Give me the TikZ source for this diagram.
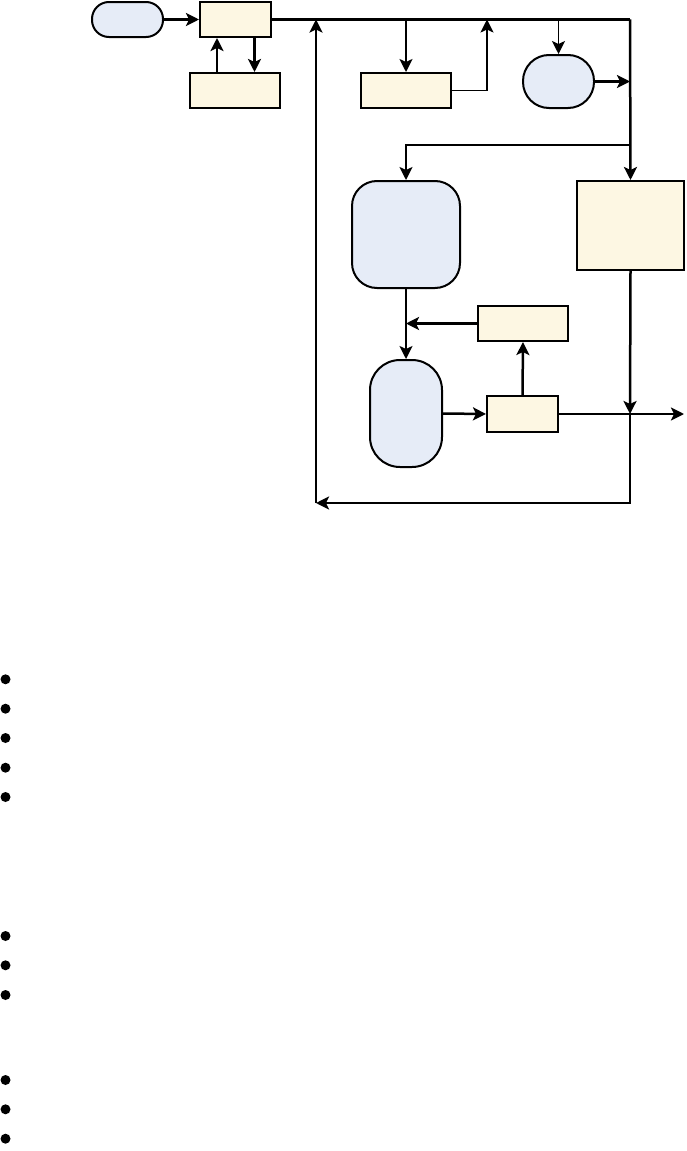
\documentclass[tikz,border=0pt]{standalone}
\usepackage{tikz}
\usetikzlibrary{arrows.meta,positioning}
\definecolor{procfill}{HTML}{FDF7E3}
\definecolor{termfill}{HTML}{E6ECF7}

\begin{document}
\begin{tikzpicture}[
  x=1pt, y=-1pt,
  box/.style={rectangle, draw=black, line width=2pt, fill=procfill, inner sep=0pt},
  term/.style={rectangle, draw=black, line width=2pt, fill=termfill, inner sep=0pt},
  dot/.style={circle, fill=black, inner sep=0pt, minimum size=10pt},
  wire/.style={line width=2.5pt},
  arr/.style={-{Stealth[length=13pt, width=13pt, inset=3pt]}, line width=2.5pt},
  tarr/.style={-{Stealth[length=13pt, width=13pt, inset=3pt]}, line width=1.8pt},
]
  \useasboundingbox (0,0) rectangle (686,1151);

  \node[term, rounded corners=17pt, minimum width=71pt, minimum height=35pt] (start) at (127.5,19.5) {};
  \node[box, minimum width=71pt, minimum height=35pt] (a) at (235.5,19.5) {};
  \node[box, minimum width=90pt, minimum height=35pt] (b) at (235,90.5) {};
  \node[box, minimum width=90pt, minimum height=35pt] (c) at (406,90.5) {};
  \node[term, rounded corners=26pt, minimum width=71pt, minimum height=53pt] (d) at (558.5,81.5) {};
  \node[box, minimum width=107pt, minimum height=89pt] (e) at (630.5,225.5) {};
  \node[term, rounded corners=25pt, minimum width=108pt, minimum height=107pt] (f) at (406,234.5) {};
  \node[box, minimum width=90pt, minimum height=35pt] (h) at (523,323.5) {};
  \node[term, rounded corners=30pt, minimum width=72pt, minimum height=107pt] (g) at (406,413.5) {};
  \node[box, minimum width=71pt, minimum height=36pt] (i) at (522.5,414) {};

  \coordinate (jtr) at (630,19.5);
  \coordinate (jc) at (487,19.5);
  \coordinate (jm) at (630,145);
  \coordinate (jo) at (630,414);
  \coordinate (out) at (684,414);
  \coordinate (jbr) at (630,503);
  \coordinate (jbl) at (316,503);

  % top row
  \draw[arr] (start) -- (a);
  \draw[arr] ([xshift=-18pt]b.north) -- ([xshift=-18pt]b.north |- a.south);
  \draw[arr] ([xshift=19pt]a.south) -- ([xshift=19pt]a.south |- b.north);
  \draw[wire] (a.east) -- (jtr);
  \draw[tarr] (c.north |- jtr) -- (c.north);
  \draw[tarr] (c.east) -| (jc);
  \draw[tarr] (d.north |- jtr) -- (d.north);
  \draw[arr] (d.east) -- (d.east -| jtr);

  % right branch
  \draw[arr] (jtr) -- (e.north);
  \draw[tarr] (jm) -| (f.north);
  \draw[tarr] (f.south) -- (g.north);
  \draw[arr] (h.west) -- (h.west -| f.south);
  \draw[arr] (g.east) -- (i.west);
  \draw[arr] (i.north) -- (h.south);
  \draw[arr] (e.south) -- (jo);
  \draw[arr] (i.east) -- (out);

  % return loop
  \draw[arr] (jo) -- (jbr) -- (jbl);
  \draw[arr] (jbl) -- (jbl |- jtr);

  % bullets
  \node[dot] (p1) at (5.5,679.3) {};
  \node[dot] (p2) at (5.5,708.7) {};
  \node[dot] (p3) at (5.5,738) {};
  \node[dot] (p4) at (5.5,767.7) {};
  \node[dot] (p5) at (5.5,797) {};
  \node[dot] (q1) at (5.5,936) {};
  \node[dot] (q2) at (5.5,965.3) {};
  \node[dot] (q3) at (5.5,995) {};
  \node[dot] (r1) at (5.5,1080) {};
  \node[dot] (r2) at (5.5,1109.3) {};
  \node[dot] (r3) at (5.5,1138.7) {};
\end{tikzpicture}
\end{document}
